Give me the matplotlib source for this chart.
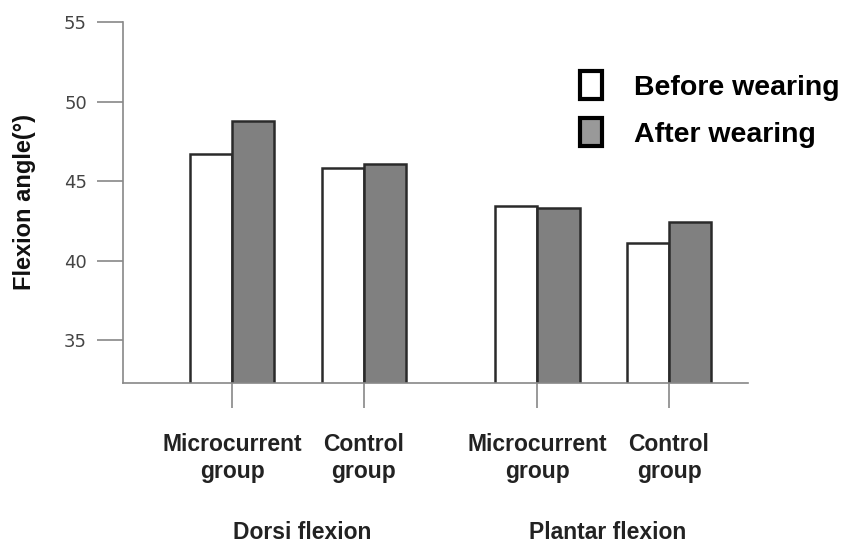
import matplotlib.pyplot as plt
from matplotlib.patches import Patch
import numpy as np

groups = ["Microcurrent\ngroup", "Control\ngroup", "Microcurrent\ngroup", "Control\ngroup"]
motions = ["Dorsi flexion", "Plantar flexion"]
before = [46.7, 45.8, 43.4, 41.1]
after = [48.75, 46.1, 43.3, 42.4]
yticks = [35, 40, 45, 50, 55]

bold = {'family': 'Liberation Sans', 'weight': 'bold'}

fig = plt.figure(figsize=(8.46, 5.44), dpi=100)
ax = fig.add_axes([123/846, 1 - 383/544, 625/846, 361/544])

# group centres, wider gap between dorsi and plantar
pos = np.array([0, 1, 2.32, 3.32])
w = 0.32
ax.bar(pos - w/2, before, w, color='white', edgecolor='#2a2a2a', linewidth=1.8)
ax.bar(pos + w/2, after, w, color='#808080', edgecolor='#2a2a2a', linewidth=1.8)

ax.set_xlim(-0.83, 3.92)
ax.set_ylim(32.3, 55)

for s in ['top', 'right']:
    ax.spines[s].set_visible(False)
for s in ['left', 'bottom']:
    ax.spines[s].set_color('#888888')
    ax.spines[s].set_linewidth(1.2)

ax.set_yticks(yticks)
ax.set_yticklabels([str(t) for t in yticks], fontsize=13, color='#444444', family='DejaVu Sans')
ax.tick_params(axis='y', length=19, width=1.2, color='#888888', pad=7)

ax.set_xticks(pos)
ax.set_xticklabels(groups, fontdict=dict(bold, size=16.5), color='#222222', linespacing=1.2)
ax.tick_params(axis='x', length=18, width=1.2, color='#888888', pad=18)

for i, m in enumerate(motions):
    xc = (pos[2*i] + pos[2*i+1]) / 2
    ax.text(xc + 0.03, -0.413, m, transform=ax.get_xaxis_transform(), ha='center', va='center',
            fontdict=dict(bold, size=16.5), color='#222222')

ax.text(-0.157, 0.5, "Flexion angle(°)", transform=ax.transAxes, rotation=90,
        ha='center', va='center', fontdict=dict(bold, size=17), color='#111111')

handles = [Patch(facecolor='white', edgecolor='black', linewidth=3),
           Patch(facecolor='#999999', edgecolor='black', linewidth=3)]
ax.legend(handles, ["Before wearing", "After wearing"], loc='upper left',
          bbox_to_anchor=(566/846, 1 - 57/544), bbox_transform=fig.transFigure,
          frameon=False, borderpad=0, handlelength=0.78, handleheight=1.15,
          handletextpad=1.1, labelspacing=0.6, prop=dict(bold, size=20.5))

fig.savefig("out.png", dpi=100)
